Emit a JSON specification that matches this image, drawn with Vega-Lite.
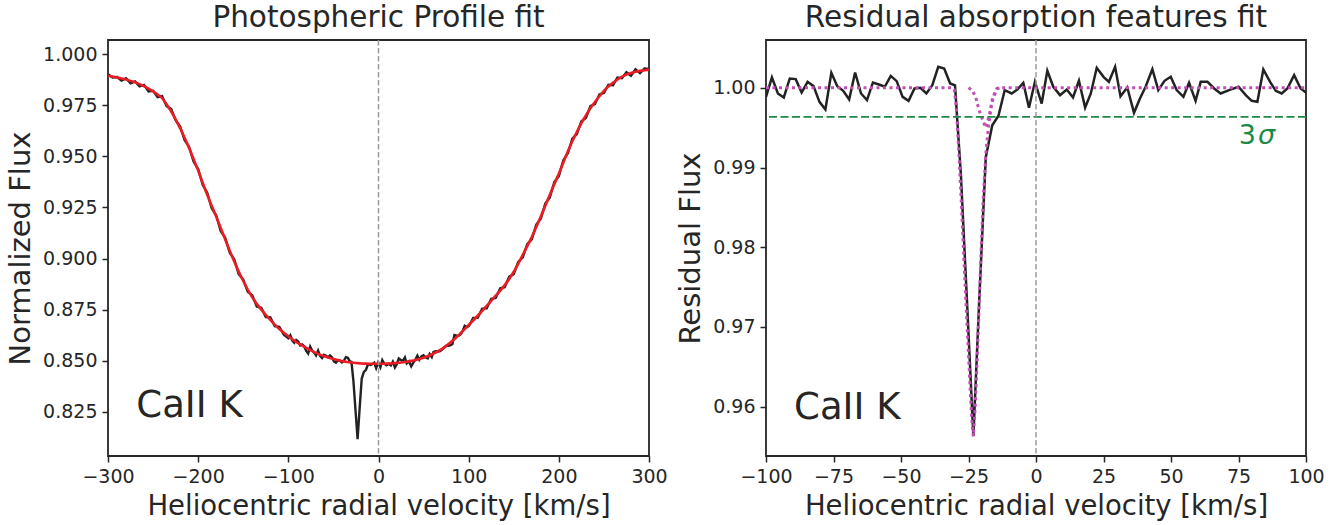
{
  "$schema": "https://vega.github.io/schema/vega-lite/v6.json",
  "background": "white",
  "padding": {"left": 5, "top": 1, "right": 10, "bottom": 2},
  "bounds": "flush",
  "spacing": 117,
  "config": {
    "font": "DejaVu Sans",
    "view": {"stroke": "#262626", "strokeWidth": 1.8},
    "axis": {"domain": false, "grid": false, "ticks": true, "tickSize": 6, "tickWidth": 1.5, "tickColor": "#262626", "labelColor": "#262626", "labelFontSize": 19, "labelFont": "DejaVu Sans", "titleFont": "DejaVu Sans", "titleFontSize": 28, "titleFontWeight": "normal", "titleColor": "#262626", "labelPadding": 5, "labelFlush": false, "labelOverlap": false},
    "axisY": {"titlePadding": 7, "titleFontSize": 29},
    "axisX": {"titlePadding": 6, "titleFontSize": 27.5},
    "title": {"fontSize": 29.5, "fontWeight": "normal", "font": "DejaVu Sans", "color": "#262626", "offset": 6, "anchor": "middle"}
  },
  "datasets": {
    "fitL": [
      {"v":-300,"f":0.9894},{"v":-295,"f":0.9890},{"v":-290,"f":0.9886},{"v":-285,"f":0.9881},{"v":-280,"f":0.9876},{"v":-275,"f":0.9869},{"v":-270,"f":0.9862},{"v":-265,"f":0.9853},{"v":-260,"f":0.9843},{"v":-255,"f":0.9831},{"v":-250,"f":0.9818},{"v":-245,"f":0.9802},{"v":-240,"f":0.9785},{"v":-235,"f":0.9755},{"v":-230,"f":0.9720},{"v":-225,"f":0.9681},{"v":-220,"f":0.9638},{"v":-215,"f":0.9591},{"v":-210,"f":0.9540},{"v":-205,"f":0.9486},{"v":-200,"f":0.9430},{"v":-195,"f":0.9371},{"v":-190,"f":0.9312},{"v":-185,"f":0.9258},{"v":-180,"f":0.9205},{"v":-175,"f":0.9149},{"v":-170,"f":0.9093},{"v":-165,"f":0.9038},{"v":-160,"f":0.8985},{"v":-155,"f":0.8936},{"v":-150,"f":0.8890},{"v":-145,"f":0.8848},{"v":-140,"f":0.8810},{"v":-135,"f":0.8778},{"v":-130,"f":0.8750},{"v":-125,"f":0.8724},{"v":-120,"f":0.8700},{"v":-115,"f":0.8677},{"v":-110,"f":0.8655},{"v":-105,"f":0.8637},{"v":-100,"f":0.8620},{"v":-95,"f":0.8603},{"v":-90,"f":0.8588},{"v":-85,"f":0.8575},{"v":-80,"f":0.8563},{"v":-75,"f":0.8551},{"v":-70,"f":0.8540},{"v":-65,"f":0.8530},{"v":-60,"f":0.8522},{"v":-55,"f":0.8515},{"v":-50,"f":0.8508},{"v":-45,"f":0.8503},{"v":-40,"f":0.8498},{"v":-35,"f":0.8494},{"v":-30,"f":0.8491},{"v":-25,"f":0.8489},{"v":-20,"f":0.8487},{"v":-15,"f":0.8486},{"v":-10,"f":0.8485},{"v":-5,"f":0.8485},{"v":0,"f":0.8485},{"v":5,"f":0.8485},{"v":10,"f":0.8486},{"v":15,"f":0.8487},{"v":20,"f":0.8489},{"v":25,"f":0.8491},{"v":30,"f":0.8494},{"v":35,"f":0.8498},{"v":40,"f":0.8502},{"v":45,"f":0.8508},{"v":50,"f":0.8515},{"v":55,"f":0.8523},{"v":60,"f":0.8533},{"v":65,"f":0.8544},{"v":70,"f":0.8557},{"v":75,"f":0.8572},{"v":80,"f":0.8590},{"v":85,"f":0.8609},{"v":90,"f":0.8630},{"v":95,"f":0.8652},{"v":100,"f":0.8675},{"v":105,"f":0.8697},{"v":110,"f":0.8720},{"v":115,"f":0.8744},{"v":120,"f":0.8768},{"v":125,"f":0.8793},{"v":130,"f":0.8818},{"v":135,"f":0.8843},{"v":140,"f":0.8870},{"v":145,"f":0.8900},{"v":150,"f":0.8935},{"v":155,"f":0.8975},{"v":160,"f":0.9018},{"v":165,"f":0.9061},{"v":170,"f":0.9105},{"v":175,"f":0.9154},{"v":180,"f":0.9205},{"v":185,"f":0.9258},{"v":190,"f":0.9312},{"v":195,"f":0.9364},{"v":200,"f":0.9415},{"v":205,"f":0.9470},{"v":210,"f":0.9525},{"v":215,"f":0.9574},{"v":220,"f":0.9620},{"v":225,"f":0.9662},{"v":230,"f":0.9700},{"v":235,"f":0.9735},{"v":240,"f":0.9766},{"v":245,"f":0.9794},{"v":250,"f":0.9820},{"v":255,"f":0.9842},{"v":260,"f":0.9860},{"v":265,"f":0.9876},{"v":270,"f":0.9890},{"v":275,"f":0.9900},{"v":280,"f":0.9908},{"v":285,"f":0.9914},{"v":290,"f":0.9918},{"v":295,"f":0.9921},{"v":300,"f":0.9924}
    ],
    "obsL": [
      {"v":-300,"f":0.9902},{"v":-295,"f":0.9886},{"v":-290,"f":0.9888},{"v":-285,"f":0.9871},{"v":-280,"f":0.9882},{"v":-275,"f":0.9857},{"v":-270,"f":0.9866},{"v":-265,"f":0.9842},{"v":-260,"f":0.9849},{"v":-255,"f":0.9817},{"v":-250,"f":0.9820},{"v":-245,"f":0.9789},{"v":-240,"f":0.9794},{"v":-235,"f":0.9745},{"v":-230,"f":0.9732},{"v":-225,"f":0.9677},{"v":-220,"f":0.9646},{"v":-215,"f":0.9579},{"v":-210,"f":0.9546},{"v":-205,"f":0.9473},{"v":-200,"f":0.9438},{"v":-195,"f":0.9361},{"v":-190,"f":0.9322},{"v":-185,"f":0.9246},{"v":-180,"f":0.9211},{"v":-175,"f":0.9135},{"v":-170,"f":0.9101},{"v":-165,"f":0.9028},{"v":-160,"f":0.8996},{"v":-155,"f":0.8924},{"v":-150,"f":0.8897},{"v":-145,"f":0.8837},{"v":-140,"f":0.8820},{"v":-135,"f":0.8765},{"v":-130,"f":0.8759},{"v":-125,"f":0.8714},{"v":-120,"f":0.8712},{"v":-115,"f":0.8669},{"v":-110,"f":0.8666},{"v":-105,"f":0.8627},
      {"v":-100.0,"f":0.8610},{"v":-97.8,"f":0.8624},{"v":-95.6,"f":0.8599},{"v":-93.4,"f":0.8588},{"v":-91.2,"f":0.8602},{"v":-89.0,"f":0.8594},{"v":-86.8,"f":0.8575},{"v":-84.6,"f":0.8580},{"v":-82.4,"f":0.8571},{"v":-80.2,"f":0.8548},{"v":-78.0,"f":0.8535},{"v":-75.8,"f":0.8569},{"v":-73.6,"f":0.8550},{"v":-71.4,"f":0.8540},{"v":-69.2,"f":0.8526},{"v":-67.0,"f":0.8550},{"v":-64.8,"f":0.8524},{"v":-62.6,"f":0.8513},{"v":-60.4,"f":0.8529},{"v":-58.2,"f":0.8524},{"v":-56.0,"f":0.8517},{"v":-53.8,"f":0.8526},{"v":-51.6,"f":0.8517},{"v":-49.4,"f":0.8497},{"v":-47.2,"f":0.8491},{"v":-45.0,"f":0.8502},{"v":-42.8,"f":0.8500},{"v":-40.6,"f":0.8492},{"v":-38.4,"f":0.8500},{"v":-36.2,"f":0.8517},{"v":-34.0,"f":0.8514},{"v":-31.8,"f":0.8497},{"v":-30.0,"f":0.8494},{"v":-27.8,"f":0.8400},{"v":-25.6,"f":0.8264},{"v":-23.2,"f":0.8116},{"v":-21.0,"f":0.8262},{"v":-18.6,"f":0.8413},{"v":-16.2,"f":0.8446},{"v":-13.9,"f":0.8456},{"v":-11.6,"f":0.8484},{"v":-9.0,"f":0.8479},{"v":-6.9,"f":0.8483},{"v":-4.7,"f":0.8490},{"v":-2.6,"f":0.8464},{"v":-0.4,"f":0.8492},{"v":2.1,"f":0.8468},{"v":4.2,"f":0.8503},{"v":6.4,"f":0.8486},{"v":8.9,"f":0.8478},{"v":11.4,"f":0.8485},{"v":13.7,"f":0.8477},{"v":15.9,"f":0.8495},{"v":18.2,"f":0.8467},{"v":20.3,"f":0.8483},{"v":22.5,"f":0.8511},{"v":25.0,"f":0.8503},{"v":27.0,"f":0.8499},{"v":29.3,"f":0.8516},{"v":31.3,"f":0.8487},{"v":33.8,"f":0.8497},{"v":36.3,"f":0.8473},{"v":38.5,"f":0.8490},{"v":40.6,"f":0.8503},{"v":43.1,"f":0.8525},{"v":45.3,"f":0.8505},{"v":47.6,"f":0.8521},{"v":49.9,"f":0.8527},{"v":52.1,"f":0.8517},{"v":54.6,"f":0.8512},{"v":56.7,"f":0.8533},{"v":59.1,"f":0.8518},{"v":61.0,"f":0.8543},{"v":63.5,"f":0.8547},{"v":66.0,"f":0.8545},{"v":68.4,"f":0.8547},{"v":71.5,"f":0.8558},{"v":75.0,"f":0.8573},{"v":77.7,"f":0.8573},{"v":79.9,"f":0.8576},{"v":82.0,"f":0.8582},{"v":84.2,"f":0.8626},{"v":86.7,"f":0.8623},{"v":88.8,"f":0.8622},{"v":91.0,"f":0.8629},{"v":93.1,"f":0.8643},{"v":95.6,"f":0.8671},{"v":98.0,"f":0.8664},{"v":100.5,"f":0.8671},
      {"v":105,"f":0.8709},{"v":110,"f":0.8710},{"v":115,"f":0.8755},{"v":120,"f":0.8756},{"v":125,"f":0.8803},{"v":130,"f":0.8807},{"v":135,"f":0.8855},{"v":140,"f":0.8860},{"v":145,"f":0.8911},{"v":150,"f":0.8923},{"v":155,"f":0.8984},{"v":160,"f":0.9006},{"v":165,"f":0.9071},{"v":170,"f":0.9094},{"v":175,"f":0.9166},{"v":180,"f":0.9195},{"v":185,"f":0.9269},{"v":190,"f":0.9299},{"v":195,"f":0.9374},{"v":200,"f":0.9403},{"v":205,"f":0.9481},{"v":210,"f":0.9515},{"v":215,"f":0.9586},{"v":220,"f":0.9609},{"v":225,"f":0.9672},{"v":230,"f":0.9688},{"v":235,"f":0.9745},{"v":240,"f":0.9755},{"v":245,"f":0.9803},{"v":250,"f":0.9810},{"v":255,"f":0.9850},{"v":260,"f":0.9848},{"v":265,"f":0.9885},{"v":270,"f":0.9882},{"v":275,"f":0.9911},{"v":280,"f":0.9894},{"v":285,"f":0.9926},{"v":290,"f":0.9907},{"v":295,"f":0.9929},{"v":300,"f":0.9927}
    ],
    "res": [
      {"v":-100.0,"r":0.99887},{"v":-97.8,"r":1.0013},{"v":-95.6,"r":0.99929},{"v":-93.4,"r":0.99879},{"v":-91.2,"r":1.00117},{"v":-89.0,"r":1.00109},{"v":-86.8,"r":0.99941},{"v":-84.6,"r":1.00075},{"v":-82.4,"r":1.00021},{"v":-80.2,"r":0.99824},{"v":-78.0,"r":0.99728},{"v":-75.8,"r":1.00188},{"v":-73.6,"r":1.0002},{"v":-71.4,"r":0.99962},{"v":-69.2,"r":0.99854},{"v":-67.0,"r":1.00192},{"v":-64.8,"r":0.99929},{"v":-62.6,"r":0.99845},{"v":-60.4,"r":1.00067},{"v":-58.2,"r":1.00042},{"v":-56.0,"r":1.00013},{"v":-53.8,"r":1.0015},{"v":-51.6,"r":1.00084},{"v":-49.4,"r":0.99887},{"v":-47.2,"r":0.99837},{"v":-45.0,"r":0.99992},{"v":-42.8,"r":1.0},{"v":-40.6,"r":0.99929},{"v":-38.4,"r":1.00033},{"v":-36.2,"r":1.00264},{"v":-34.0,"r":1.00243},{"v":-31.8,"r":1.00054},{"v":-30.0,"r":1.0003},{"v":-27.8,"r":0.989},{"v":-25.6,"r":0.9735},{"v":-23.2,"r":0.9563},{"v":-21.0,"r":0.9735},{"v":-18.6,"r":0.9913},{"v":-16.2,"r":0.9953},{"v":-13.9,"r":0.9965},{"v":-11.6,"r":0.9997},{"v":-9.0,"r":0.99929},{"v":-6.9,"r":0.99979},{"v":-4.7,"r":1.00063},{"v":-2.6,"r":0.99749},{"v":-0.4,"r":1.00075},{"v":2.1,"r":0.99803},{"v":4.2,"r":1.00213},{"v":6.4,"r":1.00013},{"v":8.9,"r":0.99908},{"v":11.4,"r":0.99979},{"v":13.7,"r":0.99879},{"v":15.9,"r":1.00088},{"v":18.2,"r":0.99753},{"v":20.3,"r":0.99929},{"v":22.5,"r":1.00251},{"v":25.0,"r":1.00138},{"v":27.0,"r":1.00075},{"v":29.3,"r":1.00264},{"v":31.3,"r":0.99895},{"v":33.8,"r":1.00004},{"v":36.3,"r":0.99686},{"v":38.5,"r":0.99866},{"v":40.6,"r":1.00013},{"v":43.1,"r":1.00234},{"v":45.3,"r":0.99971},{"v":47.6,"r":1.00088},{"v":49.9,"r":1.00138},{"v":52.1,"r":0.99971},{"v":54.6,"r":0.99887},{"v":56.7,"r":1.00063},{"v":59.1,"r":0.99837},{"v":61.0,"r":1.00075},{"v":63.5,"r":1.00075},{"v":66.0,"r":0.99992},{"v":68.4,"r":0.99929},{"v":71.5,"r":0.99971},{"v":75.0,"r":1.00013},{"v":77.7,"r":0.99908},{"v":79.9,"r":0.99837},{"v":82.0,"r":0.99824},{"v":84.2,"r":1.0023},{"v":86.7,"r":1.00075},{"v":88.8,"r":0.99962},{"v":91.0,"r":0.99929},{"v":93.1,"r":0.99992},{"v":95.6,"r":1.00159},{"v":98.0,"r":0.99992},{"v":100.5,"r":0.99929}
    ],
    "fitR": [
      {"v":-100,"r":1.0},{"v":-31.0,"r":1.0},{"v":-30.3,"r":0.9998},{"v":-29.5,"r":0.9975},{"v":-28.5,"r":0.9915},{"v":-27.5,"r":0.9845},{"v":-26.5,"r":0.977},{"v":-25.5,"r":0.970},{"v":-24.5,"r":0.963},{"v":-23.8,"r":0.9585},{"v":-23.2,"r":0.9563},{"v":-22.5,"r":0.960},{"v":-21.5,"r":0.9685},{"v":-20.5,"r":0.978},{"v":-19.5,"r":0.9865},{"v":-18.5,"r":0.992},{"v":-17.5,"r":0.9955},{"v":-16.5,"r":0.9978},{"v":-15.5,"r":0.9992},{"v":-14.5,"r":0.9999},{"v":-13.5,"r":1.0},{"v":100,"r":1.0}
    ],
    "comp": [
      {"v":-25.0,"r":1.0},{"v":-23.6,"r":0.9997},{"v":-22.3,"r":0.9988},{"v":-21.1,"r":0.9972},{"v":-19.8,"r":0.996},{"v":-18.6,"r":0.995},{"v":-17.4,"r":0.9964},{"v":-16.2,"r":0.9985},{"v":-14.3,"r":0.9999},{"v":-13.0,"r":1.0}
    ]
  },
  "hconcat": [
    {
      "width": 541,
      "height": 416,
      "title": "Photospheric Profile fit",
      "layer": [
        {
          "data": {"name": "obsL"},
          "mark": {"type": "line", "color": "#222222", "strokeWidth": 2.4, "clip": true},
          "encoding": {
            "x": {"field": "v", "type": "quantitative", "scale": {"domain": [-300, 300], "nice": false, "zero": false}, "axis": {"values": [-300, -200, -100, 0, 100, 200, 300], "title": "Heliocentric radial velocity [km/s]"}},
            "y": {"field": "f", "type": "quantitative", "scale": {"domain": [0.8034, 1.0069], "nice": false, "zero": false}, "axis": {"values": [0.825, 0.85, 0.875, 0.9, 0.925, 0.95, 0.975, 1.0], "format": ".3f", "title": "Normalized Flux"}}
          }
        },
        {
          "data": {"name": "fitL"},
          "mark": {"type": "line", "color": "#ec1c24", "strokeWidth": 2.6, "clip": true},
          "encoding": {
            "x": {"field": "v", "type": "quantitative"},
            "y": {"field": "f", "type": "quantitative"}
          }
        },
        {
          "data": {"values": [{"v": 0}]},
          "mark": {"type": "rule", "color": "#9a9a9a", "strokeWidth": 1.5, "strokeDash": [5.5, 2.5]},
          "encoding": {"x": {"field": "v", "type": "quantitative"}}
        },
        {
          "data": {"values": [{"v": -268.6, "f": 0.8224, "label": "CaII K"}]},
          "mark": {"type": "text", "align": "left", "baseline": "alphabetic", "fontSize": 37, "color": "#262626"},
          "encoding": {
            "x": {"field": "v", "type": "quantitative"},
            "y": {"field": "f", "type": "quantitative"},
            "text": {"field": "label"}
          }
        }
      ]
    },
    {
      "width": 540,
      "height": 416,
      "title": "Residual absorption features fit",
      "layer": [
        {
          "data": {"name": "res"},
          "mark": {"type": "line", "color": "#222222", "strokeWidth": 2.5, "clip": true},
          "encoding": {
            "x": {"field": "v", "type": "quantitative", "scale": {"domain": [-100, 100], "nice": false, "zero": false}, "axis": {"values": [-100, -75, -50, -25, 0, 25, 50, 75, 100], "title": "Heliocentric radial velocity [km/s]"}},
            "y": {"field": "r", "type": "quantitative", "scale": {"domain": [0.9538, 1.006], "nice": false, "zero": false}, "axis": {"values": [0.96, 0.97, 0.98, 0.99, 1.0], "format": ".2f", "title": "Residual Flux"}}
          }
        },
        {
          "data": {"name": "fitR"},
          "mark": {"type": "line", "color": "#c24fb7", "strokeWidth": 3, "strokeDash": [3, 3.5], "clip": true},
          "encoding": {
            "x": {"field": "v", "type": "quantitative"},
            "y": {"field": "r", "type": "quantitative"}
          }
        },
        {
          "data": {"name": "comp"},
          "mark": {"type": "line", "color": "#c24fb7", "strokeWidth": 3, "strokeDash": [3, 3.5], "clip": true},
          "encoding": {
            "x": {"field": "v", "type": "quantitative"},
            "y": {"field": "r", "type": "quantitative"}
          }
        },
        {
          "data": {"values": [{"r": 0.99635}]},
          "mark": {"type": "rule", "color": "#1b8a46", "strokeWidth": 1.6, "strokeDash": [8, 3.5]},
          "encoding": {"y": {"field": "r", "type": "quantitative"}}
        },
        {
          "data": {"values": [{"v": 0}]},
          "mark": {"type": "rule", "color": "#9a9a9a", "strokeWidth": 1.5, "strokeDash": [5.5, 2.5]},
          "encoding": {"x": {"field": "v", "type": "quantitative"}}
        },
        {
          "data": {"values": [{"v": 78.3, "r": 0.9929, "label": "3"}]},
          "mark": {"type": "text", "align": "center", "baseline": "alphabetic", "fontSize": 27, "color": "#1b8a46"},
          "encoding": {
            "x": {"field": "v", "type": "quantitative"},
            "y": {"field": "r", "type": "quantitative"},
            "text": {"field": "label"}
          }
        },
        {
          "data": {"values": [{"v": 85.4, "r": 0.9929, "label": "σ"}]},
          "mark": {"type": "text", "align": "center", "baseline": "alphabetic", "fontSize": 27, "fontStyle": "italic", "color": "#1b8a46"},
          "encoding": {
            "x": {"field": "v", "type": "quantitative"},
            "y": {"field": "r", "type": "quantitative"},
            "text": {"field": "label"}
          }
        },
        {
          "data": {"values": [{"v": -89.6, "r": 0.9584, "label": "CaII K"}]},
          "mark": {"type": "text", "align": "left", "baseline": "alphabetic", "fontSize": 37, "color": "#262626"},
          "encoding": {
            "x": {"field": "v", "type": "quantitative"},
            "y": {"field": "r", "type": "quantitative"},
            "text": {"field": "label"}
          }
        }
      ]
    }
  ]
}
